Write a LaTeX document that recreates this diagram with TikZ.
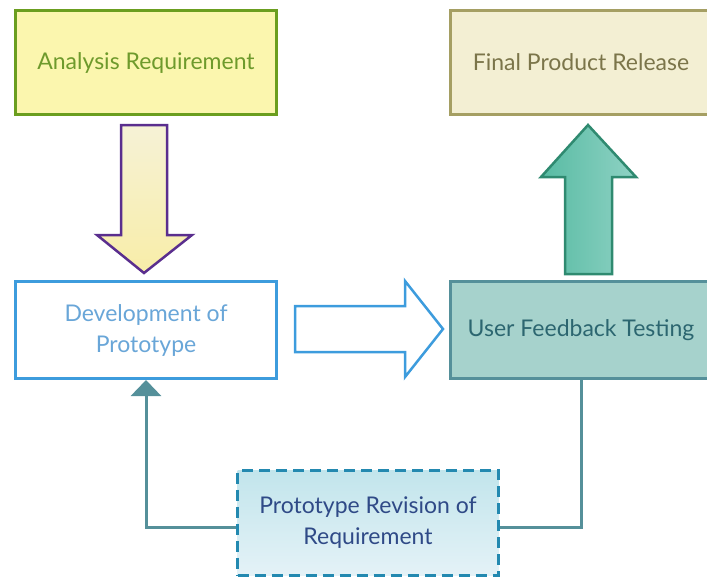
\documentclass[tikz,border=0pt]{standalone}
\usepackage{fontspec}
\setmainfont{Lato}
\usetikzlibrary{positioning, arrows.meta, calc}

\definecolor{arfill}{HTML}{FBF6AE}
\definecolor{arline}{HTML}{6B9E1F}
\definecolor{artext}{HTML}{6E9A2C}
\definecolor{fpfill}{HTML}{F3EFD3}
\definecolor{fpline}{HTML}{A59F63}
\definecolor{fptext}{HTML}{7B754A}
\definecolor{devline}{HTML}{3D9CDD}
\definecolor{devtext}{HTML}{69A6D8}
\definecolor{uffill}{HTML}{A6D2CC}
\definecolor{ufline}{HTML}{55909A}
\definecolor{uftext}{HTML}{2C6670}
\definecolor{revline}{HTML}{2389B0}
\definecolor{revtop}{HTML}{C2E5EC}
\definecolor{revbot}{HTML}{E4F2F7}
\definecolor{revtext}{HTML}{2F4A87}
\definecolor{dnline}{HTML}{5A2E8E}
\definecolor{dntop}{HTML}{F6F2D6}
\definecolor{dnbot}{HTML}{F8EDA8}
\definecolor{upline}{HTML}{2F8A70}
\definecolor{upleft}{HTML}{58BBA3}
\definecolor{upright}{HTML}{8FD2C4}

\tikzset{
    stage/.style={rectangle, align=center, minimum width=261pt, line width=3pt,
        font=\fontsize{23}{31}\selectfont},
    reqbox/.style={stage, minimum height=104pt, draw=arline, fill=arfill, text=artext},
    relbox/.style={stage, minimum height=104pt, draw=fpline, fill=fpfill, text=fptext},
    devbox/.style={stage, minimum height=97pt, draw=devline, fill=white, text=devtext},
    testbox/.style={stage, minimum height=97pt, draw=ufline, fill=uffill, text=uftext},
    revbox/.style={stage, minimum height=105pt, line width=2.5pt, draw=revline,
        dash pattern=on 11pt off 6pt, top color=revtop, bottom color=revbot, text=revtext},
    blockarrow/.style={line width=2.5pt, line join=miter},
    feedback/.style={line width=3pt, draw=ufline},
}

\begin{document}
\begin{tikzpicture}[x=1pt, y=-1pt]
    \useasboundingbox (0,0) rectangle (707,579);

    \node[reqbox] (ar) at (146,62.5) {Analysis Requirement};
    \node[devbox] (dev) [below = 164pt of ar] {Development of\\Prototype};
    \node[testbox] (uft) [right = 171pt of dev] {User Feedback Testing};
    \node[relbox] (fpr) [above = 164pt of uft] {Final Product Release};

    % feedback loop
    \node[revbox] (rev) at (368,523) {Prototype Revision of\\Requirement};
    \draw[feedback] (uft.south) |- ($(rev.east)+(0,4)$);
    \draw[feedback, -{Triangle[width=30pt, length=16pt]}]
        ($(rev.west)+(0,4)$) -| (dev.south);

    % block arrows
    \draw[blockarrow, draw=dnline, top color=dntop, bottom color=dnbot]
        ($(ar.south)+(-25,9)$) -- ++(46,0) -- ++(0,110) -- ++(25,0)
        -- ($(dev.north)+(-2,-7)$) -- ++(-47,-38) -- ++(24,0) -- cycle;
    \draw[blockarrow, draw=devline, fill=white]
        ($(dev.east)+(17,-24)$) -- ++(110,0) -- ++(0,-25)
        -- ($(uft.west)+(-6,-1)$) -- ++(-38,48) -- ++(0,-25) -- ++(-110,0) -- cycle;
    \draw[blockarrow, draw=upline, left color=upleft, right color=upright]
        ($(uft.north)+(-16,-6)$) -- ++(0,-97) -- ++(-24,0)
        -- ($(fpr.south)+(7,9)$) -- ++(48,52) -- ++(-24,0) -- ++(0,97) -- cycle;
\end{tikzpicture}
\end{document}
